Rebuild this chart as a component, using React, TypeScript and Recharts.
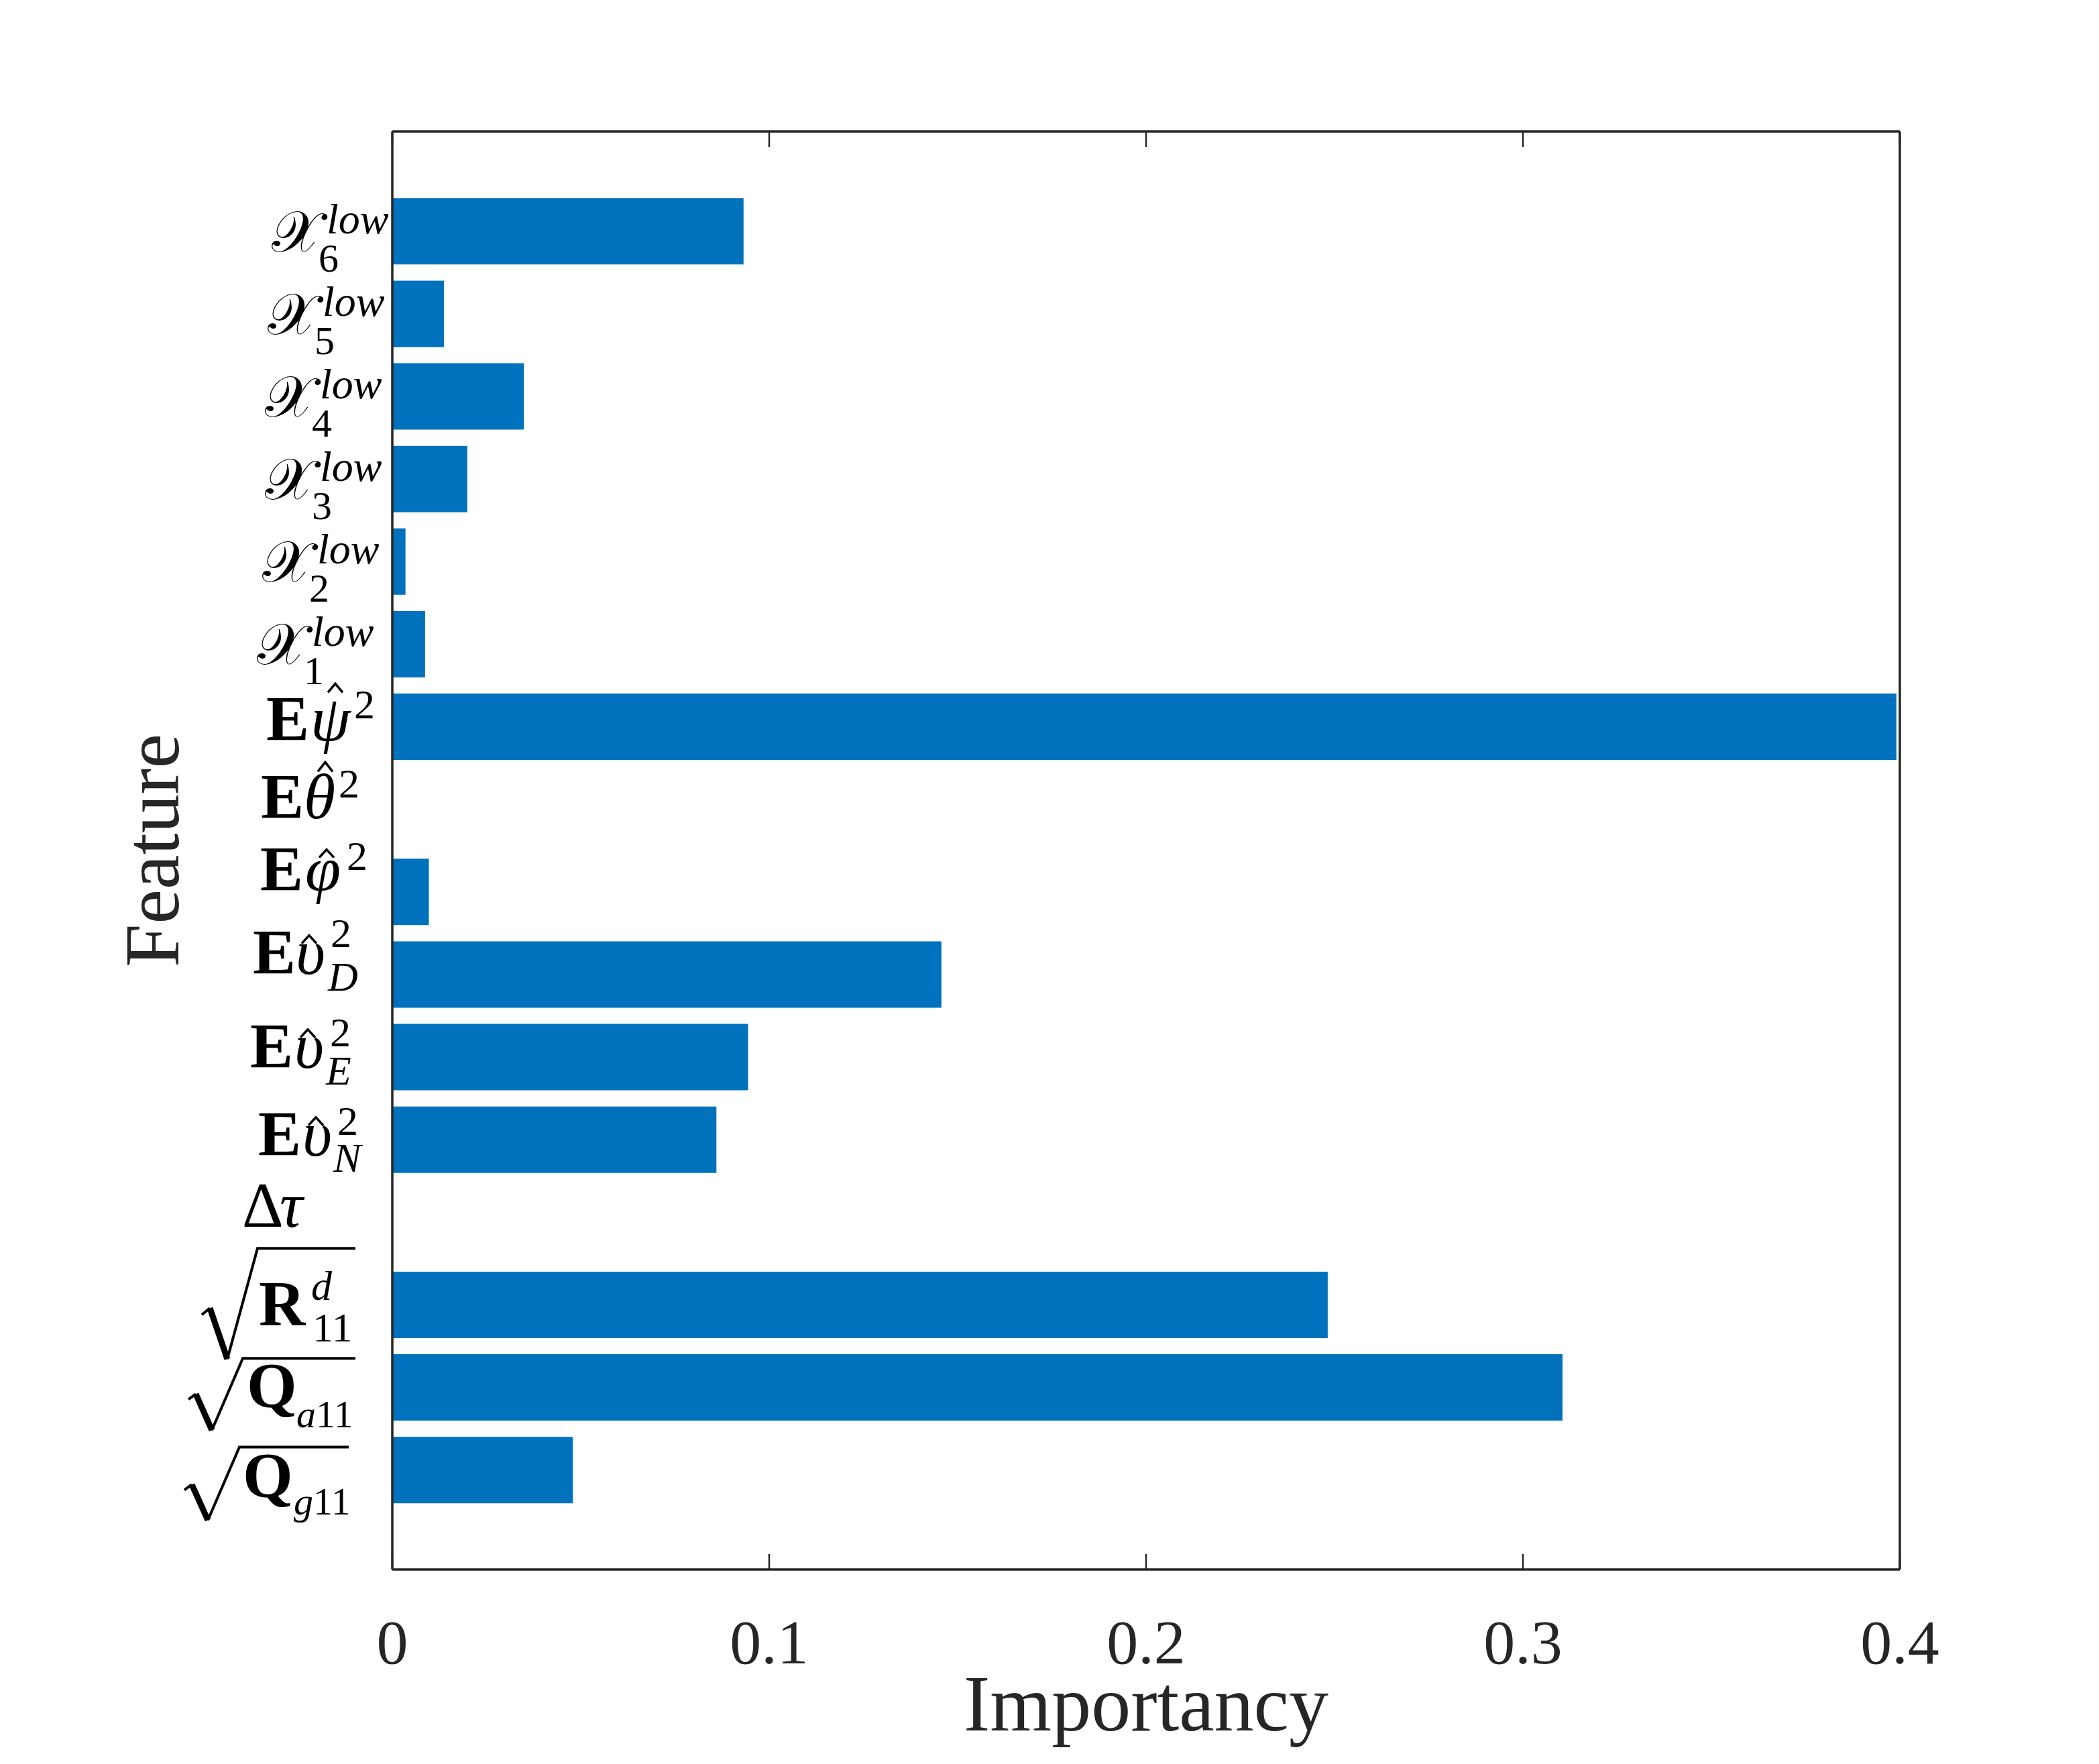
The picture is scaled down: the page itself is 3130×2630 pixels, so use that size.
import { Bar, BarChart, XAxis, YAxis } from "recharts";

// feature importance, top row first
const FEATURES = [
  "X6", "X5", "X4", "X3", "X2", "X1",
  "Epsi", "Etheta", "Ephi", "EvD", "EvE", "EvN",
  "dtau", "R11d", "Qa11", "Qg11",
];
const IMPORTANCE = [
  0.0932, 0.0137, 0.0349, 0.0199, 0.0035, 0.0087,
  0.3991, 0, 0.0097, 0.1457, 0.0944, 0.086,
  0, 0.2482, 0.3105, 0.0479,
];
const X_TICKS = [0, 0.1, 0.2, 0.3, 0.4];

const data = FEATURES.map((name, i) => ({ name, value: IMPORTANCE[i] }));

const SERIF = '"Liberation Serif", "DejaVu Serif", "DejaVu Sans", serif';
const AXIS = "#262626";
const BAR = "#0072BD";
const SCRIPT_X = "\u{1D4B3}";

type Piece = { t: string; x: number; y: number; fs?: number; b?: boolean; i?: boolean };
type Glyph = {
  pieces: Piece[];
  hat?: [number, number, number];
  root?: { start: [number, number]; hook: [number, number]; foot: [number, number]; top: [number, number]; end: number };
};

// label layout is relative to the axis line (x) and the row centre (y)
const xRow = (sub: string, s: number): Glyph => ({
  pieces: [
    { t: SCRIPT_X, x: -180 + s, y: 30, fs: 86 },
    { t: sub, x: -110 + s, y: 60, fs: 60 },
    { t: "low", x: -98 + s, y: 3, fs: 64, i: true },
  ],
});

const GLYPHS: Record<string, Glyph> = {
  X6: xRow("6", 0),
  X5: xRow("5", -6),
  X4: xRow("4", -10),
  X3: xRow("3", -10),
  X2: xRow("2", -14),
  X1: xRow("1", -22),
  Epsi: {
    pieces: [
      { t: "E", x: -188, y: 21, b: true },
      { t: "ψ", x: -122, y: 21, i: true },
      { t: "2", x: -57, y: -12, fs: 62 },
    ],
    hat: [-85, -64, -51],
  },
  Etheta: {
    pieces: [
      { t: "E", x: -196, y: 14, b: true },
      { t: "θ", x: -132, y: 14, i: true },
      { t: "2", x: -80, y: -17, fs: 62 },
    ],
    hat: [-100, -70, -56],
  },
  Ephi: {
    pieces: [
      { t: "E", x: -197, y: -2, b: true },
      { t: "φ", x: -130, y: -2, i: true },
      { t: "2", x: -68, y: -33, fs: 62 },
    ],
    hat: [-98, -63, -51],
  },
  EvD: {
    pieces: [
      { t: "E", x: -208, y: -1, b: true },
      { t: "υ", x: -144, y: -1, i: true },
      { t: "2", x: -92, y: -41, fs: 62 },
      { t: "D", x: -96, y: 24, fs: 62, i: true },
    ],
    hat: [-124, -58, -46],
  },
  EvE: {
    pieces: [
      { t: "E", x: -212, y: 16, b: true },
      { t: "υ", x: -146, y: 16, i: true },
      { t: "2", x: -93, y: -16, fs: 62 },
      { t: "E", x: -99, y: 41, fs: 62, i: true },
    ],
    hat: [-126, -41, -29],
  },
  EvN: {
    pieces: [
      { t: "E", x: -200, y: 24, b: true },
      { t: "υ", x: -134, y: 24, i: true },
      { t: "2", x: -82, y: -7, fs: 62 },
      { t: "N", x: -88, y: 48, fs: 62, i: true },
    ],
    hat: [-114, -33, -21],
  },
  dtau: {
    pieces: [
      { t: "Δ", x: -224, y: 7 },
      { t: "τ", x: -168, y: 7, i: true },
    ],
  },
  R11d: {
    pieces: [
      { t: "R", x: -199, y: 31, b: true },
      { t: "d", x: -121, y: -7, fs: 62, i: true },
      { t: "11", x: -119, y: 55, fs: 62 },
    ],
    root: { start: [-284, 15], hook: [-272, 5], foot: [-246, 81], top: [-201, -84], end: -55 },
  },
  Qa11: {
    pieces: [
      { t: "Q", x: -217, y: 30, b: true },
      { t: "a", x: -143, y: 60, fs: 58, i: true },
      { t: "11", x: -114, y: 60, fs: 58 },
    ],
    root: { start: [-304, 18], hook: [-293, 10], foot: [-269, 64], top: [-223, -43], end: -55 },
  },
  Qg11: {
    pieces: [
      { t: "Q", x: -223, y: 41, b: true },
      { t: "g", x: -147, y: 67, fs: 58, i: true },
      { t: "11", x: -118, y: 67, fs: 58 },
    ],
    root: { start: [-310, 30], hook: [-299, 22], foot: [-275, 75], top: [-228, -34], end: -65 },
  },
};

function FeatureTick(props: any) {
  const { x, y, payload } = props;
  const g = GLYPHS[payload?.value];
  if (!g) return <g />;
  const r = g.root;
  return (
    <g transform={`translate(${x},${y})`}>
      {g.pieces.map((p, k) => (
        <text
          key={k}
          x={p.x}
          y={p.y}
          fontSize={p.fs ?? 96}
          fontWeight={p.b ? "bold" : "normal"}
          fontStyle={p.i ? "italic" : "normal"}
          fontFamily={SERIF}
          fill="#000"
        >
          {p.t}
        </text>
      ))}
      {g.hat ? (
        <path
          d={`M${g.hat[0] - 11},${g.hat[2]} L${g.hat[0]},${g.hat[1]} L${g.hat[0] + 11},${g.hat[2]}`}
          stroke="#000"
          strokeWidth={3.5}
          fill="none"
        />
      ) : null}
      {r ? (
        <g stroke="#000" fill="none" strokeLinejoin="miter">
          <path d={`M${r.start[0]},${r.start[1]} L${r.hook[0]},${r.hook[1]}`} strokeWidth={4} />
          <path d={`M${r.hook[0]},${r.hook[1]} L${r.foot[0]},${r.foot[1]}`} strokeWidth={9} />
          <path d={`M${r.foot[0]},${r.foot[1]} L${r.top[0]},${r.top[1]} L${r.end},${r.top[1]}`} strokeWidth={4} />
        </g>
      ) : null}
    </g>
  );
}

function BottomTick(props: any) {
  const { x, y, payload } = props;
  return (
    <g>
      <line x1={x} y1={y} x2={x} y2={y - 23} stroke={AXIS} strokeWidth={2.5} />
      <text x={x} y={y + 140} textAnchor="middle" fontSize={94} fontFamily={SERIF} fill={AXIS}>
        {String(payload.value)}
      </text>
    </g>
  );
}

function TopTick(props: any) {
  const { x, y } = props;
  return <line x1={x} y1={y} x2={x} y2={y + 23} stroke={AXIS} strokeWidth={2.5} />;
}

export default function App() {
  return (
    <div style={{ width: 3114, height: 2614, background: "#fff" }}>
      <BarChart
        width={3114}
        height={2614}
        data={data}
        layout="vertical"
        barCategoryGap="10%"
        margin={{ top: 187, right: 288, bottom: 0, left: 0 }}
      >
        <Bar dataKey="value" fill={BAR} isAnimationActive={false} />
        <XAxis
          type="number"
          domain={[0, 0.4]}
          ticks={X_TICKS}
          height={282}
          tickSize={0}
          tickMargin={0}
          tickLine={false}
          tick={<BottomTick />}
          axisLine={{ stroke: AXIS, strokeWidth: 3.5 }}
          allowDataOverflow
          label={{
            content: (p: any) => {
              const vb = p.viewBox ?? { x: 577, y: 2332, width: 2248 };
              return (
                <text
                  x={vb.x + vb.width / 2}
                  y={vb.y + 240}
                  textAnchor="middle"
                  fontSize={118}
                  fontFamily={SERIF}
                  fill={AXIS}
                >
                  Importancy
                </text>
              );
            },
          }}
        />
        <XAxis
          xAxisId="top"
          orientation="top"
          type="number"
          domain={[0, 0.4]}
          ticks={X_TICKS}
          height={1}
          tickSize={0}
          tickMargin={0}
          tickLine={false}
          tick={<TopTick />}
          axisLine={{ stroke: AXIS, strokeWidth: 3.5 }}
          allowDataOverflow
        />
        <YAxis
          type="category"
          dataKey="name"
          width={577}
          interval={0}
          padding={{ top: 87, bottom: 87 }}
          tickSize={0}
          tickMargin={0}
          tickLine={false}
          tick={<FeatureTick />}
          axisLine={{ stroke: AXIS, strokeWidth: 3.5 }}
          label={{
            content: (p: any) => {
              const vb = p.viewBox ?? { y: 188, height: 2144 };
              const cy = vb.y + vb.height / 2;
              return (
                <text
                  transform={`translate(258,${cy}) rotate(-90)`}
                  textAnchor="middle"
                  fontSize={116}
                  fontFamily={SERIF}
                  fill={AXIS}
                >
                  Feature
                </text>
              );
            },
          }}
        />
        <YAxis
          yAxisId="right"
          orientation="right"
          type="category"
          dataKey="name"
          width={1}
          tick={false}
          tickLine={false}
          axisLine={{ stroke: AXIS, strokeWidth: 3.5 }}
        />
      </BarChart>
    </div>
  );
}
